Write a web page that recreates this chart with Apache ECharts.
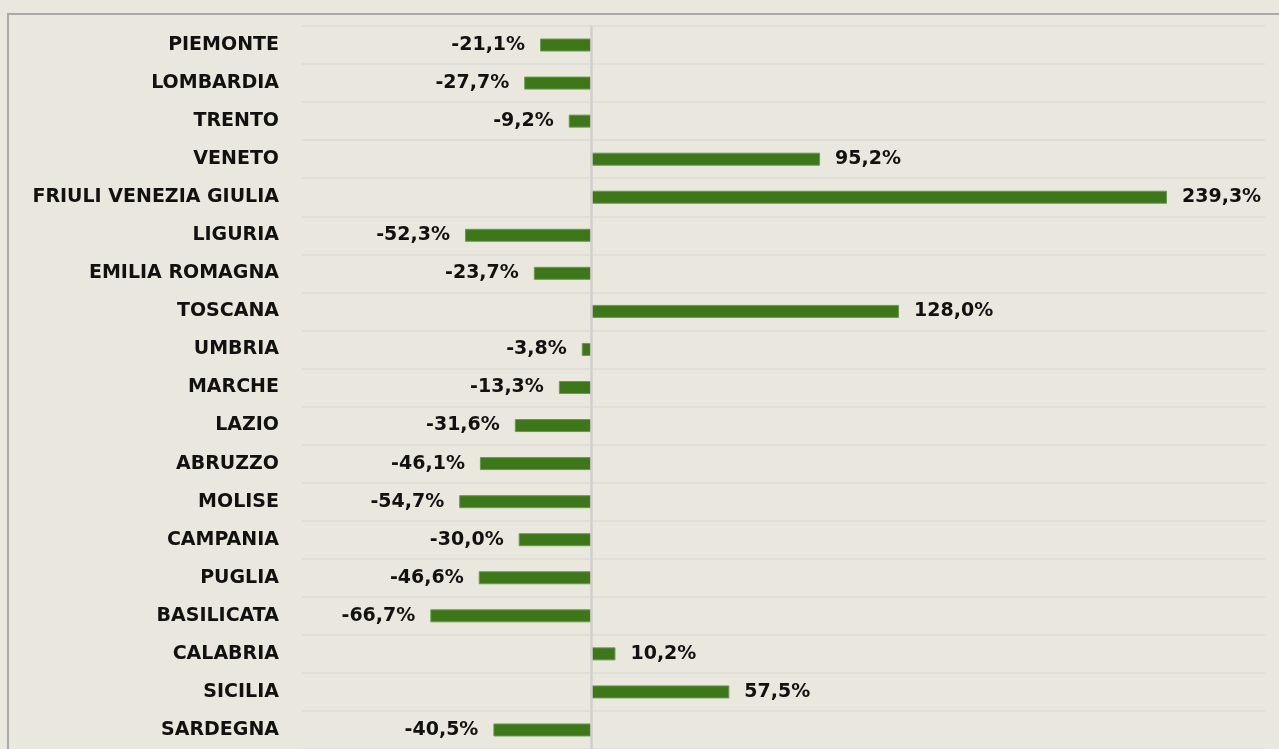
<!DOCTYPE html>
<html>
<head>
<meta charset="utf-8">
<script src="https://cdn.jsdelivr.net/npm/echarts@6/dist/echarts.min.js"></script>
<style>
  html, body { margin: 0; padding: 0; background: #eae8de; }
  #main { width: 1279px; height: 749px; }
</style>
</head>
<body>
<div id="main"></div>
<script>
  var regions = ['PIEMONTE', 'LOMBARDIA', 'TRENTO', 'VENETO', 'FRIULI VENEZIA GIULIA',
    'LIGURIA', 'EMILIA ROMAGNA', 'TOSCANA', 'UMBRIA', 'MARCHE', 'LAZIO', 'ABRUZZO',
    'MOLISE', 'CAMPANIA', 'PUGLIA', 'BASILICATA', 'CALABRIA', 'SICILIA', 'SARDEGNA'];
  var variazione = [-21.1, -27.7, -9.2, 95.2, 239.3, -52.3, -23.7, 128.0, -3.8, -13.3,
    -31.6, -46.1, -54.7, -30.0, -46.6, -66.7, 10.2, 57.5, -40.5];

  var font = 'DejaVu Sans';
  var barData = variazione.map(function (v) {
    return {
      value: v,
      label: { position: v < 0 ? 'left' : 'right' }
    };
  });

  var myChart = echarts.init(document.getElementById('main'));
  myChart.setOption({
    backgroundColor: '#eae8de',
    animation: false,
    grid: { left: 302, right: 14, top: 26, height: 728.7 },
    xAxis: {
      type: 'value',
      min: -120,
      max: 280,
      axisLabel: { show: false },
      axisLine: { show: false },
      axisTick: { show: false },
      splitLine: { show: false }
    },
    yAxis: {
      type: 'category',
      inverse: true,
      data: regions,
      axisLine: { show: false },
      axisTick: { show: false },
      axisLabel: {
        margin: 23,
        color: '#111111',
        fontFamily: font,
        fontWeight: 'bold',
        fontSize: 19
      },
      splitLine: { show: true, interval: 0, lineStyle: { color: '#dcdbd5', width: 1.5 } }
    },
    series: [{
      type: 'bar',
      data: barData,
      barWidth: 13,
      itemStyle: { color: '#3d771a', borderColor: '#6a9850', borderWidth: 1 },
      label: {
        show: true,
        distance: 15,
        color: '#111111',
        fontFamily: font,
        fontWeight: 'bold',
        fontSize: 19,
        formatter: function (p) {
          return p.value.toFixed(1).replace('.', ',') + '%';
        }
      },
      markLine: {
        silent: true,
        symbol: 'none',
        label: { show: false },
        lineStyle: { color: '#cfcfcd', width: 2.5, type: 'solid' },
        data: [{ xAxis: 0 }]
      }
    }],
    graphic: [{
      type: 'polyline',
      shape: { points: [[8, 749], [8, 14], [1279, 14]] },
      style: { stroke: '#a9a9a9', lineWidth: 2, fill: null }
    }]
  });

  window.addEventListener('resize', function () {
    myChart.resize();
  });
</script>
</body>
</html>
